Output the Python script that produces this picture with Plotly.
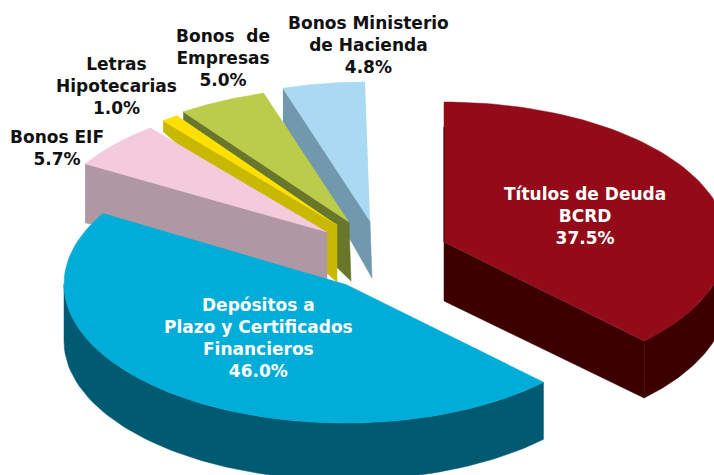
import numpy as np
import plotly.graph_objects as go

# ---- data ----
categories = ["Títulos de Deuda<br>BCRD",
              "Depósitos a<br>Plazo y Certificados<br>Financieros",
              "Bonos EIF",
              "Letras<br>Hipotecarias",
              "Bonos\u00a0\u00a0de<br>Empresas",
              "Bonos Ministerio<br>de Hacienda"]
shares = [37.5, 46.0, 5.7, 1.0, 5.0, 4.8]

# ---- styling / layout of the exploded perspective pie ----
top_colors = ["#930B18", "#00ACD8", "#F4CBDD", "#FFE000", "#BBCC4A", "#A9D9F3"]
wall_colors = ["#3D0000", "#005A72", "#AF98A3", "#C8B800", "#68772B", "#7198AC"]
apex_x = [444, 345, 327, 337, 349, 370]
apex_y = [242, 284, 232, 225, 222, 221]
radius_x = [283, 281, 281, 277, 287, 277]
radius_y = [140, 139, 134, 134, 135, 139]
lean_x = [0, 0, 0, 0, 0, 5]
wall_apex = [59, 0, 47, 57, 59, 57]
wall_rim = [57, 57, 59, 11, 8, 33]
wall_shift = [0, 0, 0, 0, 2, 2]
wall_face = ["end", None, "start", "start", "start", "start"]
label_x = [585, 258, 57, 116, 223, 368]
label_y = [216, 338, 148, 86, 58, 45]
label_colors = ["white", "white", "#111111", "#111111", "#111111", "#111111"]
font_name = "DejaVu Sans"
font_px = 17

starts = np.concatenate([[0], np.cumsum(shares)[:-1]]) * 3.6
ends = np.cumsum(shares) * 3.6


def rim(i, a, b, n=80):
    t = np.radians(np.linspace(a, b, n))
    return (apex_x[i] + radius_x[i] * np.sin(t) - lean_x[i] * np.cos(t),
            apex_y[i] - radius_y[i] * np.cos(t))


fig = go.Figure()


def poly(xs, ys, color):
    fig.add_trace(go.Scatter(x=list(xs), y=list(ys), mode="lines", fill="toself",
                             fillcolor=color, line=dict(color=color, width=0.5),
                             hoverinfo="skip", showlegend=False))


for i in [0, 5, 4, 3, 2, 1]:
    a, b = starts[i], ends[i]
    # radial wall
    if wall_face[i]:
        edge = a if wall_face[i] == "start" else b
        ex, ey = rim(i, edge, edge, 1)
        poly([ex[0], apex_x[i], apex_x[i] + wall_shift[i], ex[0]],
             [ey[0], apex_y[i], apex_y[i] + wall_apex[i], ey[0] + wall_rim[i]],
             wall_colors[i])
    # outer (front facing) wall
    fa, fb = max(a, 90), min(b, 270)
    if fa < fb:
        wx, wy = rim(i, fa, fb)
        poly(np.r_[wx, wx[::-1]], np.r_[wy, wy[::-1] + wall_rim[i]], wall_colors[i])
    # top surface
    tx, ty = rim(i, a, b)
    poly(np.r_[apex_x[i], tx], np.r_[apex_y[i], ty], top_colors[i])
    if i == 0:  # the first slice's start face, seen almost edge-on
        sx, sy = rim(i, a, a, 1)
        fig.add_trace(go.Scatter(x=[sx[0], apex_x[i]], y=[sy[0] + 25, apex_y[i]], mode="lines",
                                 line=dict(color=wall_colors[i], width=1),
                                 hoverinfo="skip", showlegend=False))

annotations = []
for i, cat in enumerate(categories):
    annotations.append(dict(x=label_x[i], y=label_y[i], text=f"<b>{cat}<br>{shares[i]:.1f}%</b>",
                            xref="x", yref="y", showarrow=False, xanchor="center", yanchor="middle",
                            align="center",
                            font=dict(family=font_name, size=font_px, color=label_colors[i])))

fig.update_layout(width=714, height=475, margin=dict(l=0, r=0, t=0, b=0),
                  paper_bgcolor="white", plot_bgcolor="white", showlegend=False,
                  xaxis=dict(range=[0, 714], visible=False, fixedrange=True),
                  yaxis=dict(range=[475, 0], visible=False, fixedrange=True),
                  annotations=annotations)
fig.write_html("out.html", config={"displayModeBar": False},
               post_script="document.body.style.margin='0';")
